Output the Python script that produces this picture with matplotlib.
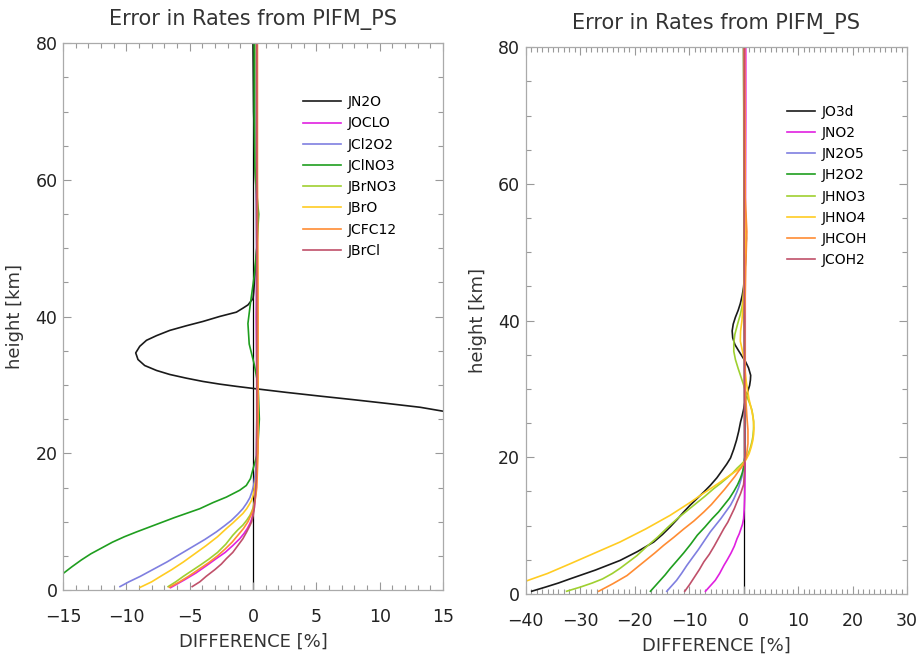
import matplotlib.pyplot as plt
from matplotlib.ticker import MultipleLocator

# ---- left panel: height [km] vs difference [%] ----
h_jn2o = [80, 70, 60, 55, 50, 46, 43.5, 42.6, 42.36, 41.73, 41.25, 40.66, 40.03, 39.3, 38.67,
          37.99, 37.22, 36.54, 35.66, 34.7, 33.73, 32.85, 32.13, 31.54, 31.0, 30.52, 30.13,
          29.8, 29.5, 28.92, 28.38, 27.86, 27.32, 26.74, 26.2, 25, 22, 18, 10, 0]
d_jn2o = [0.0, 0.05, 0.2, 0.35, 0.3, 0.15, 0.05, 0.0, -0.13, -0.39, -0.79, -1.31, -2.63, -3.95,
          -5.26, -6.57, -7.62, -8.41, -8.94, -9.26, -9.08, -8.55, -7.62, -6.57, -5.26, -3.95,
          -2.63, -1.31, 0.0, 2.63, 5.26, 7.89, 10.5, 13.2, 14.9, 19, 30, 40, 50, 55]

h_joclo = [0.35, 1.5, 2.5, 3.6, 4.6, 5.5, 6.5, 7.5, 8.3, 9, 9.7, 10.4, 12, 15, 20, 30, 40, 50,
           60, 70, 80]
d_joclo = [-6.5, -5.4, -4.5, -3.65, -2.9, -2.2, -1.6, -1.05, -0.7, -0.45, -0.25, -0.1, 0.1,
           0.25, 0.3, 0.3, 0.25, 0.3, 0.25, 0.2, 0.2]

h_jcl2o2 = [0.5, 1.2, 2, 3, 4.1, 5.2, 6.3, 7.4, 8.5, 9.4, 10.2, 11.1, 11.9, 12.7, 13.5, 14.4,
            15.3, 18, 25, 40, 60, 80]
d_jcl2o2 = [-10.5, -9.8, -8.9, -7.9, -6.8, -5.8, -4.8, -3.8, -2.9, -2.25, -1.7, -1.2, -0.8,
            -0.5, -0.25, -0.08, 0.05, 0.25, 0.3, 0.3, 0.25, 0.2]

h_jclno3 = [0.5, 2.4, 3.4, 4.4, 5.3, 6.1, 7.0, 7.8, 8.5, 9.2, 10.6, 11.9, 12.8, 13.6, 14.6,
            15.3, 16.3, 17.7, 20, 25, 30, 33, 36, 39, 42, 46, 50, 55, 58, 62, 70, 80]
d_jclno3 = [-17.5, -15, -14.3, -13.55, -12.8, -12.0, -11.1, -10.15, -9.2, -8.2, -6.2, -4.2,
            -3.15, -2.1, -1.05, -0.53, -0.2, 0.0, 0.35, 0.5, 0.4, 0.1, -0.3, -0.4, -0.2, 0.1,
            0.3, 0.45, 0.3, 0.15, 0.1, 0.1]

h_jbrno3 = [0.5, 1.2, 2, 2.8, 3.6, 4.5, 5.5, 6.7, 8, 8.8, 9.5, 10.2, 10.9, 11.5, 12, 13, 14,
            18, 30, 50, 80]
d_jbrno3 = [-6.7, -6.1, -5.5, -4.85, -4.2, -3.5, -2.8, -2.15, -1.6, -1.2, -0.8, -0.5, -0.25,
            -0.1, 0.0, 0.12, 0.2, 0.3, 0.3, 0.3, 0.25]

h_jbro = [0.4, 1.2, 2, 3, 4.1, 5.3, 6.5, 7.8, 9, 9.8, 10.5, 11.2, 11.9, 12.5, 13, 13.6, 14.2,
          17, 25, 50, 80]
d_jbro = [-8.9, -8.0, -7.3, -6.4, -5.5, -4.6, -3.7, -2.8, -2.1, -1.6, -1.2, -0.8, -0.5, -0.3,
          -0.15, -0.03, 0.05, 0.3, 0.4, 0.35, 0.3]

h_jcfc12 = [0.4, 1.2, 2, 3, 4, 5, 6, 7, 8, 9, 10, 11, 12, 13.5, 15, 20, 40, 60, 80]
d_jcfc12 = [-6.6, -5.8, -5.1, -4.3, -3.5, -2.8, -2.2, -1.65, -1.2, -0.75, -0.4, -0.15, 0.05,
            0.2, 0.3, 0.4, 0.4, 0.35, 0.35]

h_jbrcl = [0.5, 1.2, 2, 3, 3.8, 4.6, 5.5, 6.5, 7.5, 8.5, 9.3, 10, 11, 12, 16, 25, 50, 80]
d_jbrcl = [-4.8, -4.2, -3.7, -3.0, -2.5, -2.1, -1.6, -1.2, -0.8, -0.5, -0.28, -0.1, 0.02, 0.1,
           0.25, 0.3, 0.3, 0.3]

# ---- right panel ----
h_jo3d = [0.4, 1, 1.6, 2.2, 3.5, 4.9, 6.2, 7.6, 8.7, 9.8, 10.9, 12.0, 13, 14, 15, 15.9, 17, 18,
          19, 19.9, 21.2, 22.5, 23.8, 25.2, 26.1, 27, 27.9, 28.7, 29.6, 30.5, 31.3, 32, 33.1,
          34, 34.8, 35.7, 36.5, 37.5, 38.5, 39.5, 40.5, 41.5, 42.5, 43.7, 44.9, 48, 52, 56,
          60, 70, 80]
d_jo3d = [-38.9, -36.4, -34.0, -31.9, -27.2, -22.7, -19.5, -16.5, -14.9, -13.5, -12.2, -11,
          -9.8, -8.5, -7.2, -6.1, -4.9, -4, -3.1, -2.4, -1.8, -1.3, -0.9, -0.55, -0.25, 0.0,
          0.2, 0.4, 0.75, 1.1, 1.25, 1.3, 0.9, 0.35, -0.3, -1.0, -1.6, -2.0, -2.1, -1.9, -1.5,
          -1.0, -0.6, -0.25, 0.0, 0.3, 0.5, 0.3, 0.1, 0.05, 0.0]

h_jno2 = [0.4, 1.2, 2, 3, 4.2, 5, 6, 7, 8.1, 8.8, 9.5, 10.2, 11, 12.5, 14, 20, 30, 40, 50, 60,
          70, 80]
d_jno2 = [-7.0, -6.1, -5.2, -4.4, -3.6, -3.0, -2.3, -1.7, -1.2, -0.8, -0.5, -0.2, 0.0, 0.12,
          0.2, 0.3, 0.3, 0.3, 0.3, 0.35, 0.4, 0.4]

h_jn2o5 = [0.4, 1.2, 2, 3, 4.2, 5.3, 6.5, 7.8, 9.1, 10, 11, 12, 13.0, 13.9, 14.8, 15.6, 16.4,
           17.2, 18, 20, 30, 50, 80]
d_jn2o5 = [-14.1, -13.2, -12.3, -11.4, -10.4, -9.4, -8.3, -7.2, -6.1, -5.2, -4.2, -3.3, -2.4,
           -1.8, -1.3, -0.9, -0.6, -0.3, -0.1, 0.2, 0.2, 0.1, 0.1]

h_jh2o2 = [0.4, 1.2, 2, 2.8, 3.7, 4.8, 6, 7.3, 8.6, 9.8, 11, 12, 13.0, 14, 15, 16, 16.9, 17.7,
           18.5, 20, 30, 50, 80]
d_jh2o2 = [-17.1, -16.2, -15.3, -14.4, -13.5, -12.3, -11, -9.7, -8.5, -7.1, -5.8, -4.6, -3.6,
           -2.6, -1.8, -1.1, -0.6, -0.25, 0.0, 0.2, 0.2, 0.1, 0.1]

h_jhno3 = [0.4, 1, 1.6, 2.2, 3.0, 3.8, 5.6, 7, 8.3, 9.7, 11.0, 12.1, 13.2, 14.3, 15.4, 16.2, 17,
           17.7, 18.4, 19, 19.5, 20.4, 21.3, 22.2, 23, 24.1, 25.2, 26.1, 27, 27.8, 28.5, 29.5,
           30.6, 31.8, 33, 34.3, 35.5, 36.8, 38, 39.5, 40.9, 42, 43, 46, 50, 60, 80]
d_jhno3 = [-32.5, -30.0, -27.8, -25.9, -24.1, -22.6, -19.6, -17.7, -15.8, -14.0, -12.2, -10.5,
           -8.8, -7.1, -5.5, -4.2, -3.0, -2.0, -1.2, -0.4, 0.2, 0.8, 1.2, 1.5, 1.7, 1.82, 1.85,
           1.7, 1.5, 1.15, 0.8, 0.4, 0.0, -0.5, -1.0, -1.5, -1.8, -1.8, -1.6, -1.1, -0.6, -0.3,
           -0.1, 0.1, 0.1, 0.05, 0.0]

h_jhno4 = [0.0, 1.9, 3, 4.4, 6, 7.6, 9.5, 11.5, 13.5, 14.5, 15.4, 16.2, 17, 17.6, 18.1, 18.6,
           19.1, 19.8, 20.5, 21.5, 22.5, 23.4, 24.3, 25.4, 26.5, 27.5, 28.5, 29.7, 31, 32.5,
           34, 35.5, 37, 38.5, 40, 42.5, 45, 50, 60, 80]
d_jhno4 = [-46, -39.9, -36, -31.9, -27.3, -22.7, -18.0, -13.5, -9.6, -7.8, -6.1, -4.6, -3.2,
           -2.1, -1.2, -0.5, 0.0, 0.55, 1.0, 1.4, 1.7, 1.85, 1.9, 1.8, 1.6, 1.3, 1.0, 0.75,
           0.5, 0.3, 0.2, -0.2, -0.6, -0.55, -0.3, -0.1, 0.1, 0.3, 0.2, 0.1]

h_jhcoh = [0.4, 1.5, 2.7, 3.8, 4.9, 6, 7.1, 8.3, 9.5, 10.7, 12.0, 13.1, 14.2, 15.3, 16.4, 17.2,
           18, 18.5, 19, 20, 22, 24, 26, 30, 40, 48, 53, 58, 80]
d_jhcoh = [-26.6, -24, -21.4, -19.7, -18, -16.3, -14.7, -12.8, -11, -9.1, -7.3, -5.9, -4.7,
           -3.5, -2.4, -1.6, -0.9, -0.4, 0.0, 0.5, 0.8, 0.8, 0.6, 0.3, 0.2, 0.4, 0.6, 0.3, 0.2]

h_jcoh2 = [0.4, 1.4, 2.5, 3.6, 4.7, 5.8, 7, 8.3, 9.6, 10.5, 11.5, 12.5, 13.5, 14.7, 16, 18, 20,
           30, 50, 80]
d_jcoh2 = [-10.8, -9.9, -9, -8.1, -7.3, -6.3, -5.4, -4.5, -3.6, -2.9, -2.3, -1.7, -1.2, -0.55,
           0.0, 0.2, 0.2, 0.15, 0.1, 0.1]

colors = ['#1a1a1a', '#e020e0', '#7f7fe0', '#1f9e1f', '#9fd030', '#ffcc22', '#ff8c33', '#c0506a']

left_labels = ['JN2O', 'JOCLO', 'JCl2O2', 'JClNO3', 'JBrNO3', 'JBrO', 'JCFC12', 'JBrCl']
left_h = [h_jn2o, h_joclo, h_jcl2o2, h_jclno3, h_jbrno3, h_jbro, h_jcfc12, h_jbrcl]
left_d = [d_jn2o, d_joclo, d_jcl2o2, d_jclno3, d_jbrno3, d_jbro, d_jcfc12, d_jbrcl]

right_labels = ['JO3d', 'JNO2', 'JN2O5', 'JH2O2', 'JHNO3', 'JHNO4', 'JHCOH', 'JCOH2']
right_h = [h_jo3d, h_jno2, h_jn2o5, h_jh2o2, h_jhno3, h_jhno4, h_jhcoh, h_jcoh2]
right_d = [d_jo3d, d_jno2, d_jn2o5, d_jh2o2, d_jhno3, d_jhno4, d_jhcoh, d_jcoh2]

fig = plt.figure(figsize=(9.17, 6.58), dpi=100)
ax1 = fig.add_axes([0.0687, 0.1033, 0.4144, 0.8309])
ax2 = fig.add_axes([0.5733, 0.0973, 0.4158, 0.8309])


def draw_panel(ax, hs, ds, labels, xlim, xmajor, leg_xy, handlelen):
    ax.axvline(0, color='black', linewidth=0.9, zorder=1)
    for h, d, lab, c in zip(hs, ds, labels, colors):
        ax.plot(d, h, color=c, linewidth=1.2, label=lab, solid_joinstyle='round')
    ax.set_xlim(*xlim)
    ax.set_ylim(0, 80)
    ax.xaxis.set_major_locator(MultipleLocator(xmajor))
    ax.xaxis.set_minor_locator(MultipleLocator(1))
    ax.yaxis.set_major_locator(MultipleLocator(20))
    ax.yaxis.set_minor_locator(MultipleLocator(5))
    ax.tick_params(which='both', direction='in', top=True, right=True, color='#999999',
                   labelcolor='#222222')
    ax.tick_params(which='major', length=6, width=0.8)
    ax.tick_params(which='minor', length=3.5, width=0.8)
    ax.tick_params(axis='x', which='major', labelsize=12.5, pad=13)
    ax.tick_params(axis='y', which='major', labelsize=12.5, pad=4)
    for s in ax.spines.values():
        s.set_color('#aaaaaa')
        s.set_linewidth(0.9)
    ax.set_title('Error in Rates from PIFM_PS', fontsize=15, color='#333333', pad=13)
    ax.set_xlabel('DIFFERENCE [%]', fontsize=13, color='#333333', labelpad=5)
    ax.set_ylabel('height [km]', fontsize=13, color='#333333', labelpad=8)
    ax.legend(loc='upper left', bbox_to_anchor=leg_xy, frameon=False, fontsize=10,
              handlelength=handlelen, handletextpad=0.5, labelspacing=0.52,
              borderpad=0, borderaxespad=0)


draw_panel(ax1, left_h, left_d, left_labels, (-15, 15), 5, (0.632, 0.905), 2.7)
draw_panel(ax2, right_h, right_d, right_labels, (-40, 30), 10, (0.685, 0.895), 2.0)

plt.savefig('out.png', dpi=100)
